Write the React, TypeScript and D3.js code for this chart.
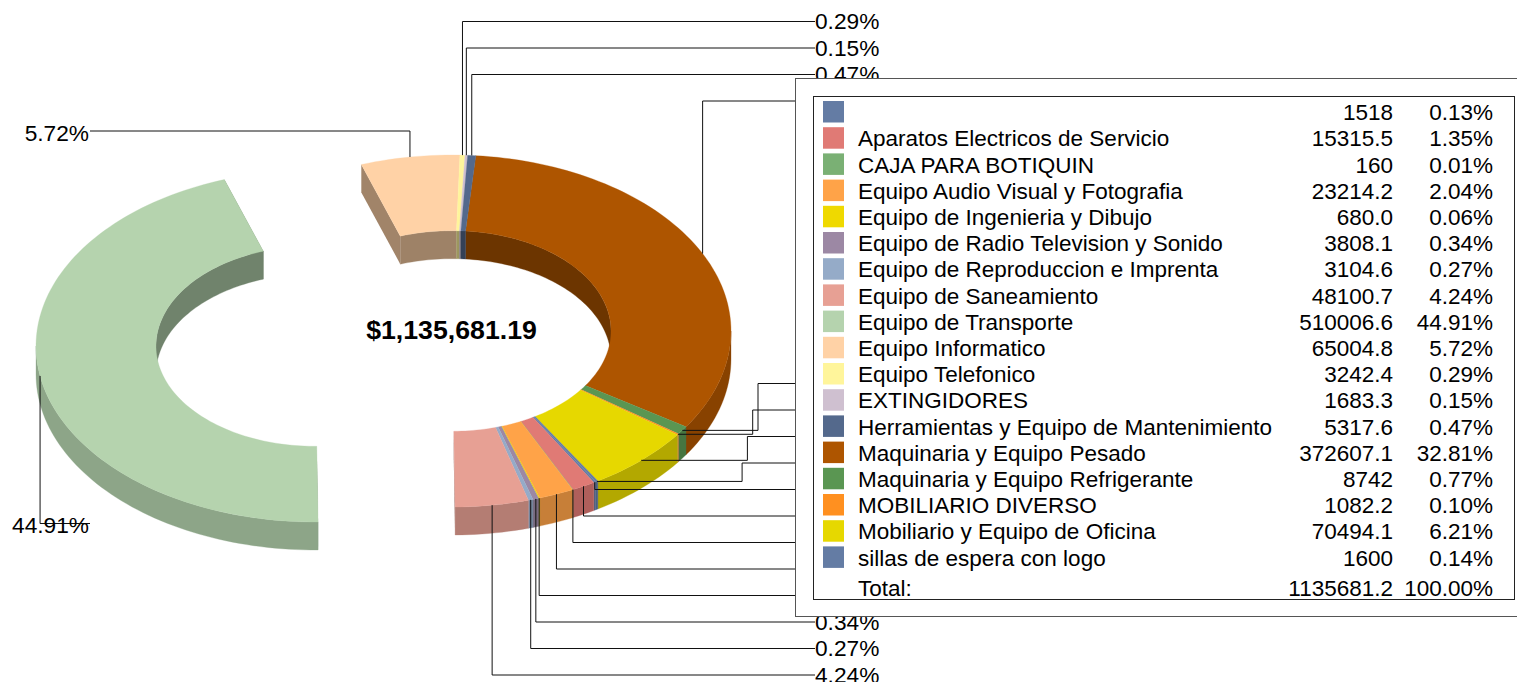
import React from "react";
import * as d3 from "d3";

const names = ["", "Aparatos Electricos de Servicio", "CAJA PARA BOTIQUIN", "Equipo Audio Visual y Fotografia", "Equipo de Ingenieria y Dibujo", "Equipo de Radio Television y Sonido", "Equipo de Reproduccion e Imprenta", "Equipo de Saneamiento", "Equipo de Transporte", "Equipo Informatico", "Equipo Telefonico", "EXTINGIDORES", "Herramientas y Equipo de Mantenimiento", "Maquinaria y Equipo Pesado", "Maquinaria y Equipo Refrigerante", "MOBILIARIO DIVERSO", "Mobiliario y Equipo de Oficina", "sillas de espera con logo"];
const valueLabels = ["1518", "15315.5", "160", "23214.2", "680.0", "3808.1", "3104.6", "48100.7", "510006.6", "65004.8", "3242.4", "1683.3", "5317.6", "372607.1", "8742", "1082.2", "70494.1", "1600"];
const percents = [0.13, 1.35, 0.01, 2.04, 0.06, 0.34, 0.27, 4.24, 44.91, 5.72, 0.29, 0.15, 0.47, 32.81, 0.77, 0.10, 6.21, 0.14];
const colors = ["#647ca4", "#e07a75", "#7ab074", "#ffa348", "#efd900", "#9c88a4", "#95abc8", "#e7a094", "#b5d3ae", "#ffd2a6", "#fff59b", "#cfc0d0", "#54698c", "#ae5500", "#5a9652", "#ff9020", "#e6d800", "#647ca4"];
const sliceOrder = [13, 14, 15, 16, 17, 0, 1, 2, 3, 4, 5, 6, 7, 8, 9, 10, 11, 12];
const topRows = [10, 11, 12, 13];
const bottomRows = [14, 15, 16, 17, 0, 1, 2, 3, 4, 5, 6, 7];
const totalLabels = ["Total:", "1135681.2", "100.00%"];
const centerLabel = "$1,135,681.19";

const W = 1517, H = 682;
const FONT = "'Liberation Sans', Arial, sans-serif";
const CX = 452, CY = 331, RX = 279, RY = 176, IRX = 159, DEPTH = 28;
const BROWN_START = 4.87;
const OFFSETS: Record<number, [number, number]> = { 8: [-137, 15] };

const sx = d3.scaleLinear().domain([-1, 1]).range([-RX, RX]);
const sy = d3.scaleLinear().domain([-1, 1]).range([-RY, RY]);
const rad = (d: number) => (d * Math.PI) / 180;

type Slice = { i: number; a0: number; a1: number; cx: number; cy: number };
const pct = d3.scaleLinear().domain([0, 100]).range([0, 360]);
let cum = BROWN_START;
const slices: Slice[] = sliceOrder.map((i) => {
  const a0 = cum;
  cum += pct(percents[i]);
  const off = OFFSETS[i] || [0, 0];
  return { i, a0, a1: cum, cx: CX + off[0], cy: CY + off[1] };
});

const pt = (s: Slice, a: number, k: number, dy = 0): [number, number] => [
  s.cx + sx(Math.sin(rad(a))) * k,
  s.cy - sy(Math.cos(rad(a))) * k + dy,
];
const K = IRX / RX;
const line = d3.line();
function arcPts(s: Slice, a0: number, a1: number, k: number, dy = 0) {
  const n = Math.max(2, Math.ceil(Math.abs(a1 - a0) / 1.5) + 1);
  return d3.range(n).map((j) => pt(s, a0 + ((a1 - a0) * j) / (n - 1), k, dy));
}
const topPath = (s: Slice) =>
  line([...arcPts(s, s.a0, s.a1, 1), ...arcPts(s, s.a1, s.a0, K)]) + "Z";
const bandPath = (s: Slice, a0: number, a1: number, k: number) =>
  line([...arcPts(s, a0, a1, k), ...arcPts(s, a1, a0, k, DEPTH)]) + "Z";
const capPath = (s: Slice, a: number) =>
  line([pt(s, a, 1), pt(s, a, K), pt(s, a, K, DEPTH), pt(s, a, 1, DEPTH)]) + "Z";
const shade = (c: string, f: number) => {
  const r = d3.rgb(c);
  return d3.rgb(r.r * f, r.g * f, r.b * f).formatHex();
};
// clamp a slice to an angular window, allowing for 360 wrap
function overlap(s: Slice, lo: number, hi: number): [number, number] | null {
  for (const shift of [-360, 0, 360]) {
    const a = Math.max(s.a0, lo + shift), b = Math.min(s.a1, hi + shift);
    if (b > a) return [a, b];
  }
  return null;
}

const mid = (s: Slice) => (s.a0 + s.a1) / 2;
const byIdx = (i: number) => slices.find((s) => s.i === i)!;
const pctText = (i: number) => percents[i].toFixed(2) + "%";

const LABEL_X = 815, LEFT_LABEL_END = 90, LABEL_SIZE = 22.7, LEGEND_SIZE = 22.5;

const rowTop = d3.scaleLinear().domain([0, 1]).range([21.5, 48]);
const rowBottom = d3.scaleLinear().domain([11, 10]).range([675, 648.5]);
const jog = d3.scaleLinear().domain([0, 1]).range([758, 752.7]);
const legendRow = d3.scaleLinear().domain([0, 1]).range([112, 138.2]);

function leaders() {
  const out: { d: string; key: string }[] = [];
  topRows.forEach((i, r) => {
    const [x, y] = pt(byIdx(i), mid(byIdx(i)), 1);
    out.push({ key: "t" + i, d: line([[x, y], [x, rowTop(r)], [LABEL_X, rowTop(r)]])! });
  });
  bottomRows.forEach((i, r) => {
    const [x, y] = pt(byIdx(i), mid(byIdx(i)), 1);
    const yy = rowBottom(r);
    const pts: [number, number][] = r < 4
      ? [[x, y], [jog(r), y], [jog(r), yy], [LABEL_X, yy]]
      : [[x, y], [x, yy], [LABEL_X, yy]];
    out.push({ key: "b" + i, d: line(pts)! });
  });
  const a = byIdx(9), b = byIdx(8);
  const [ax, ay] = pt(a, mid(a), 1);
  out.push({ key: "l9", d: line([[ax, ay], [ax, 131], [LEFT_LABEL_END, 131]])! });
  const [bx, by] = pt(b, mid(b), 1);
  out.push({ key: "l8", d: line([[bx, by], [bx, 523.5], [LEFT_LABEL_END, 523.5]])! });
  return out;
}

export default function App() {
  const outer = slices.flatMap((s) => {
    const o = overlap(s, 90, 270);
    return o ? [{ s, d: bandPath(s, o[0], o[1], 1) }] : [];
  });
  const inner = slices.flatMap((s) => {
    const o = overlap(s, -90, 90);
    return o ? [{ s, d: bandPath(s, o[0], o[1], K) }] : [];
  });
  const caps = slices.flatMap((s, n) => {
    const prev = slices[(n + slices.length - 1) % slices.length];
    const next = slices[(n + 1) % slices.length];
    const res: { s: Slice; d: string }[] = [];
    if (prev.cx !== s.cx) res.push({ s, d: capPath(s, s.a0) });
    if (next.cx !== s.cx) res.push({ s, d: capPath(s, s.a1) });
    return res;
  });
  return (
    <svg width={W} height={H} viewBox={`0 0 ${W} ${H}`} style={{ position: "absolute", left: 0, top: 0, background: "#fff" }} fontFamily={FONT}>
      {caps.map(({ s, d }, n) => <path key={"c" + n} d={d} fill={shade(colors[s.i], 0.63)} />)}
      {inner.map(({ s, d }) => <path key={"in" + s.i} d={d} fill={shade(colors[s.i], 0.62)} stroke={shade(colors[s.i], 0.62)} strokeWidth={0.3} />)}
      {outer.map(({ s, d }) => <path key={"out" + s.i} d={d} fill={shade(colors[s.i], 0.78)} stroke={shade(colors[s.i], 0.78)} strokeWidth={0.3} />)}
      {slices.map((s) => <path key={"top" + s.i} d={topPath(s)} fill={colors[s.i]} stroke={colors[s.i]} strokeWidth={0.3} />)}

      {leaders().map((l) => <path key={l.key} d={l.d} fill="none" stroke="#111" strokeWidth={1} />)}
      {topRows.map((i, r) => <text key={"tl" + i} x={LABEL_X} y={rowTop(r) - 0.5} dy="0.36em" fontSize={LABEL_SIZE}>{pctText(i)}</text>)}
      {bottomRows.map((i, r) => <text key={"bl" + i} x={LABEL_X} y={rowBottom(r) - 0.5} dy="0.36em" fontSize={LABEL_SIZE}>{pctText(i)}</text>)}
      <text x={LEFT_LABEL_END - 1} y={132.5} dy="0.36em" textAnchor="end" fontSize={LABEL_SIZE}>{pctText(9)}</text>
      <text x={LEFT_LABEL_END - 1} y={524.5} dy="0.36em" textAnchor="end" fontSize={LABEL_SIZE}>{pctText(8)}</text>

      <text x={451.5} y={329.5} dy="0.36em" textAnchor="middle" fontSize={26.7} fontWeight="bold">{centerLabel}</text>

      <rect x={795.5} y={78.5} width={730} height={538} fill="#fff" stroke="#555" strokeWidth={1} />
      <rect x={813.5} y={96.5} width={701} height={503} fill="#fff" stroke="#222" strokeWidth={1} />
      {names.map((n, i) => (
        <g key={"lg" + i}>
          <rect x={823} y={legendRow(i) - 11} width={21} height={21.5} fill={colors[i]} />
          <text x={858} y={legendRow(i)} dy="0.36em" fontSize={LEGEND_SIZE}>{n}</text>
          <text x={1393} y={legendRow(i)} dy="0.36em" textAnchor="end" fontSize={LEGEND_SIZE}>{valueLabels[i]}</text>
          <text x={1493} y={legendRow(i)} dy="0.36em" textAnchor="end" fontSize={LEGEND_SIZE}>{pctText(i)}</text>
        </g>
      ))}
      <text x={858} y={588} dy="0.36em" fontSize={LEGEND_SIZE}>{totalLabels[0]}</text>
      <text x={1393} y={588} dy="0.36em" textAnchor="end" fontSize={LEGEND_SIZE}>{totalLabels[1]}</text>
      <text x={1493} y={588} dy="0.36em" textAnchor="end" fontSize={LEGEND_SIZE}>{totalLabels[2]}</text>
    </svg>
  );
}
